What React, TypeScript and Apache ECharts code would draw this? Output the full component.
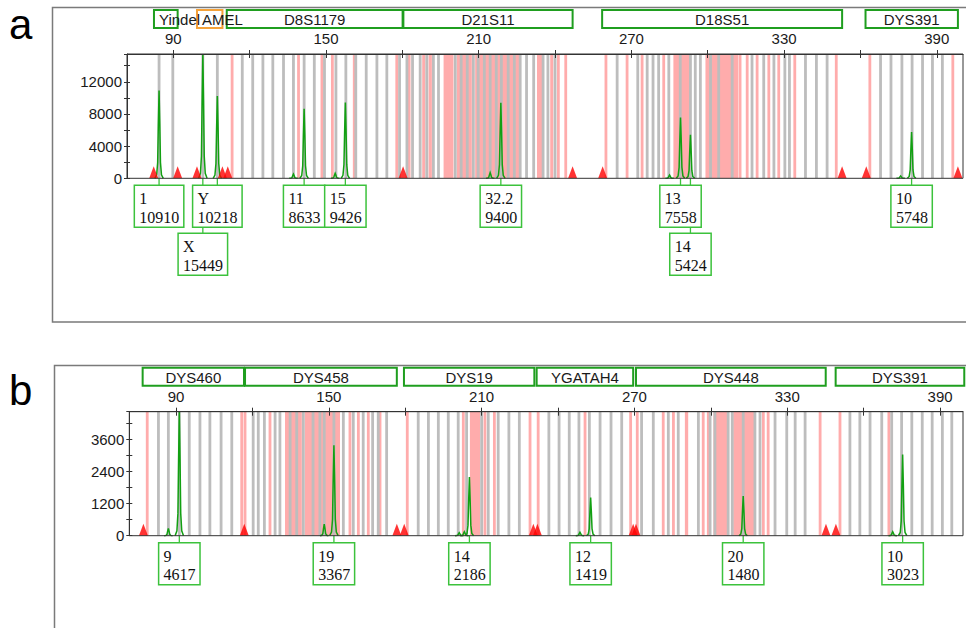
import React, { useEffect, useRef } from 'react';
import * as echarts from 'echarts';

// ---------- Panel a data ----------
const aTickValues = [90, 120, 150, 180, 210, 240, 270, 300, 330, 360, 390];
const aLabelValues = [90, 150, 210, 270, 330, 390];
const aGrayBins = [84.4, 89.8, 101.6, 107.3, 117.1, 121.2, 125.2, 129.1, 133.3, 137.2, 141.4, 145.4, 149.4, 153.9, 157.8, 161.7, 165.8, 170.0, 173.9, 178.9, 181.8, 184.0, 187.0, 189.6, 192.2, 194.2, 200.8, 203.1, 205.5, 207.9, 209.8, 212.2, 214.5, 216.9, 218.9, 221.6, 224.0, 226.3, 228.8, 231.6, 235.3, 237.2, 240.0, 264.4, 272.5, 276.2, 278.5, 280.7, 284.7, 289.2, 293.2, 295.1, 297.1, 301.1, 304.3, 309.6, 317.4, 322.0, 326.0, 330.3, 332.1, 338.4, 342.7, 346.9, 367.9, 372.0, 376.3, 380.3, 384.4, 388.3, 392.2];
const aPinkBins = [113.1, 139.2, 148.4, 152.5, 161.1, 177.8, 241.3, 244.2, 260.0, 268.3, 274.2, 282.7, 312.7, 315.5, 319.4, 324.0, 327.9, 334.2, 350.5, 363.7, 396.3];
const aPinkBlocks = [[182.0, 183.2], [187.8, 189.0], [190.3, 191.6], [196.2, 200.1], [201.4, 207.3], [208.6, 226.3], [232.9, 234.9], [238.1, 239.3], [286.5, 293.2], [299.1, 312.0]];
const aPeakPos = [84.4, 101.6, 107.3, 141.4, 157.6, 218.7, 289.3, 293.2, 380.1];
const aPeakHeight = [10910, 15449, 10218, 8633, 9426, 9400, 7558, 5424, 5748];
const aAlleleNames = ['1', 'X', 'Y', '11', '15', '32.2', '13', '14', '10'];
const aLabelRow = [0, 1, 0, 0, 0, 0, 0, 1, 0];
const aMinorPos = [137.2, 153.6, 214.5, 285.0, 375.8];
const aMinorHeight = [530, 620, 700, 400, 290];
const aTriangles = [82.3, 91.7, 99.3, 109.3, 111.4, 180.3, 246.9, 258.7, 352.8, 362.3, 398.3];
const aLocusNames = ['Yindel', 'AMEL', 'D8S1179', 'D21S11', 'D18S51', 'DYS391'];
const aLocusStart = [82.4, 99.3, 111.0, 180.4, 258.5, 362.0];
const aLocusEnd = [91.7, 109.3, 180.1, 246.9, 352.8, 398.3];
const aLocusColors = ['#1f9e1f', '#f4a23a', '#1f9e1f', '#1f9e1f', '#1f9e1f', '#1f9e1f'];

// ---------- Panel b data ----------
const bTickValues = [90, 120, 150, 180, 210, 240, 270, 300, 330, 360, 390];
const bLabelValues = [90, 150, 210, 270, 330, 390];
const bGrayBins = [83.1, 87.0, 91.3, 95.2, 99.4, 103.3, 107.7, 111.9, 120.3, 122.3, 124.7, 128.9, 130.8, 134.8, 137.4, 140.0, 143.8, 146.5, 148.2, 152.0, 155.7, 159.6, 163.5, 167.2, 169.4, 172.7, 185.1, 189.1, 193.0, 196.9, 200.8, 204.1, 210.0, 212.6, 216.5, 220.7, 224.8, 236.4, 240.4, 244.4, 248.2, 252.3, 256.5, 260.8, 265.0, 272.8, 277.4, 283.3, 287.2, 295.1, 299.7, 301.6, 306.8, 308.4, 312.7, 317.3, 319.3, 325.2, 329.8, 333.1, 337.0, 354.6, 358.5, 362.5, 367.1, 371.0, 374.9, 378.9, 383.0, 386.9, 390.9, 394.6];
const bPinkBins = [78.7, 115.8, 117.1, 126.9, 158.3, 161.6, 165.5, 170.1, 180.8, 202.8, 211.3, 215.0, 229.0, 232.2, 250.6, 268.5, 271.1, 281.3, 285.3, 297.0, 299.0, 320.6, 322.5, 342.9, 350.7, 369.9];
const bPinkBlocks = [[132.8, 139.4], [140.6, 154.4], [205.4, 209.4], [289.8, 291.1], [301.0, 306.8], [308.8, 317.3]];
const bPeakPos = [91.3, 152.0, 205.2, 252.8, 312.7, 375.3];
const bPeakHeight = [4617, 3367, 2186, 1419, 1480, 3023];
const bAlleleNames = ['9', '19', '14', '12', '20', '10'];
const bLabelRow = [0, 0, 0, 0, 0, 0];
const bMinorPos = [87.0, 148.2, 201.2, 203.2, 248.6, 371.4];
const bMinorHeight = [272, 435, 110, 150, 124, 150];
const bTriangles = [77.2, 116.8, 176.7, 179.6, 230.3, 231.9, 269.5, 270.6, 345.2, 349.1];
const bLocusNames = ['DYS460', 'DYS458', 'DYS19', 'YGATAH4', 'DYS448', 'DYS391'];
const bLocusStart = [76.9, 117.1, 179.5, 231.6, 270.6, 349.0];
const bLocusEnd = [116.7, 176.7, 230.7, 269.5, 345.1, 399.5];
const bLocusColors = ['#1f9e1f', '#1f9e1f', '#1f9e1f', '#1f9e1f', '#1f9e1f', '#1f9e1f'];

const SANS = 'Arial, "Liberation Sans", sans-serif';
const SERIF = '"Times New Roman", "Liberation Serif", serif';
const GRAY = '#bdbdbd';
const PINK = '#ffacac';
const TRACE = '#12a012';

let measureCtx: CanvasRenderingContext2D | null = null;
function textWidth(s: string, size: number, family: string) {
  if (!measureCtx) measureCtx = document.createElement('canvas').getContext('2d');
  if (!measureCtx) return s.length * size * 0.6;
  measureCtx.font = `${size}px ${family}`;
  return measureCtx.measureText(s).width;
}

function binSeries(ranges: number[][], color: string, ai: number, ymax: number) {
  return {
    type: 'custom', xAxisIndex: ai, yAxisIndex: ai, z: 1, silent: true, clip: true,
    data: ranges.map((r) => [r[0], r[1], 0]),
    encode: { x: [0, 1], y: 2 },
    renderItem: (params: any, api: any) => {
      const p0 = api.coord([api.value(0), ymax]);
      const p1 = api.coord([api.value(1), 0]);
      return {
        type: 'rect',
        shape: { x: p0[0], y: p0[1], width: Math.max(p1[0] - p0[0], 1.5), height: p1[1] - p0[1] },
        style: { fill: color },
      };
    },
  };
}

const PROFILE = [[-4.2, 0], [-2.4, 0.04], [-1.4, 0.18], [-0.75, 0.6], [0, 1], [0.75, 0.6], [1.4, 0.18], [2.4, 0.04], [4.2, 0]];

function peakSeries(pos: number[], heights: number[], ai: number) {
  return {
    type: 'custom', xAxisIndex: ai, yAxisIndex: ai, z: 3, silent: true, clip: false,
    data: pos.map((p, i) => [p, heights[i]]),
    encode: { x: 0, y: 1 },
    renderItem: (params: any, api: any) => {
      const top = api.coord([api.value(0), api.value(1)]);
      const base = api.coord([api.value(0), 0]);
      const hpx = base[1] - top[1];
      return {
        type: 'polyline',
        shape: { points: PROFILE.map((q) => [base[0] + q[0], base[1] - q[1] * hpx]) },
        style: { stroke: TRACE, lineWidth: 1.5, fill: 'none' },
      };
    },
  };
}

function triangleSeries(pos: number[], ai: number) {
  return {
    type: 'scatter', xAxisIndex: ai, yAxisIndex: ai, z: 4, silent: true,
    symbol: 'triangle', symbolSize: [9, 12], symbolOffset: [0, '-50%'],
    itemStyle: { color: '#ff0000' },
    data: pos.map((p) => [p, 0]),
  };
}

function alleleSeries(pos: number[], heights: number[], names: string[], rows: number[], ai: number) {
  return {
    type: 'custom', xAxisIndex: ai, yAxisIndex: ai, z: 4, silent: true, clip: false,
    data: pos.map((p) => [p, 0]),
    encode: { x: 0, y: 1 },
    renderItem: (params: any, api: any) => {
      const i = params.dataIndex;
      const base = api.coord([api.value(0), 0]);
      const l1 = names[i];
      const l2 = String(heights[i]);
      const w = Math.max(l1.length, l2.length) * 8.1 + 9;
      const top = base[1] + (rows[i] === 0 ? 7 : 55);
      const left = base[0] - w / 2;
      return {
        type: 'group',
        children: [
          { type: 'line', z2: 1, shape: { x1: base[0], y1: base[1], x2: base[0], y2: top }, style: { stroke: '#3cc23c', lineWidth: 1.3 } },
          { type: 'rect', z2: 2, shape: { x: left, y: top, width: w, height: 42 }, style: { fill: '#ffffff', stroke: '#3cc23c', lineWidth: 1.5 } },
          { type: 'text', z2: 3, x: left + 5, y: top + 13.5, style: { text: l1, fill: '#111', fontSize: 16, fontFamily: SERIF, align: 'left', verticalAlign: 'middle' } },
          { type: 'text', z2: 3, x: left + 5, y: top + 32, style: { text: l2, fill: '#111', fontSize: 16, fontFamily: SERIF, align: 'left', verticalAlign: 'middle' } },
        ],
      };
    },
  };
}

function locusSeries(names: string[], starts: number[], ends: number[], colors: string[], ai: number) {
  return {
    type: 'custom', xAxisIndex: ai, yAxisIndex: ai, z: 4, silent: true, clip: false,
    data: starts.map((s, i) => [s, ends[i], 0]),
    encode: { x: [0, 1], y: 2 },
    renderItem: (params: any, api: any) => {
      const i = params.dataIndex;
      const x0 = api.coord([api.value(0), 0])[0];
      const x1 = api.coord([api.value(1), 0])[0];
      const y0 = params.coordSys.y - 44;
      const w = textWidth(names[i], 15, SANS);
      const cx = Math.max((x0 + x1) / 2, x0 + 5 + w / 2);
      return {
        type: 'group',
        children: [
          { type: 'rect', z2: 1, shape: { x: x0, y: y0, width: x1 - x0, height: 18 }, style: { fill: '#ffffff', stroke: colors[i], lineWidth: 2 } },
          { type: 'text', z2: 5, x: cx, y: y0 + 9.5, style: { text: names[i], fill: '#1a1a1a', fontSize: 15, fontFamily: SANS, align: 'center', verticalAlign: 'middle' } },
        ],
      };
    },
  };
}

function axesFor(gridIndex: number, xmin: number, xmax: number, ticks: number[], labels: number[]) {
  const common = { type: 'value', gridIndex, position: 'top', min: xmin, max: xmax, z: 6, splitLine: { show: false } };
  return [
    {
      ...common,
      axisLine: { show: true, onZero: false, lineStyle: { color: '#333', width: 1 } },
      axisTick: { show: true, length: 4, customValues: ticks, lineStyle: { color: '#333' } },
      axisLabel: { show: true, customValues: labels, margin: 8, fontSize: 15, color: '#1a1a1a', fontFamily: SANS },
    },
    {
      ...common,
      axisLine: { show: false, onZero: false },
      axisTick: { show: true, inside: true, length: 4, customValues: ticks, lineStyle: { color: '#333' } },
      axisLabel: { show: false },
    },
  ];
}

function yAxesFor(gridIndex: number, ymax: number, interval: number, labelStep: number) {
  const common = { type: 'value', gridIndex, position: 'left', min: 0, max: ymax, interval, z: 6, splitLine: { show: false } };
  return [
    {
      ...common,
      axisLine: { show: true, onZero: false, lineStyle: { color: '#333', width: 1 } },
      axisTick: { show: true, length: 3, lineStyle: { color: '#333' } },
      axisLabel: { show: true, margin: 5, fontSize: 15, color: '#1a1a1a', fontFamily: SANS, formatter: (v: number) => (v % labelStep === 0 ? String(v) : '') },
    },
    {
      ...common,
      axisLine: { show: false, onZero: false },
      axisTick: { show: true, inside: true, length: 3, lineStyle: { color: '#333' } },
      axisLabel: { show: false },
    },
  ];
}

export default function App() {
  const ref = useRef<HTMLDivElement>(null);
  useEffect(() => {
    document.body.style.margin = '0';
    if (!ref.current) return;
    const chart = echarts.init(ref.current, undefined, { renderer: 'svg' });
    const aYMax = 15449;
    const bYMax = 4617;
    const singles = (arr: number[]) => arr.map((p) => [p - 0.55, p + 0.55]);
    const xa = axesFor(0, 71.8, 400.3, aTickValues, aLabelValues);
    const xb = axesFor(1, 71.66, 399.0, bTickValues, bLabelValues);
    const ya = yAxesFor(0, aYMax, 2000, 4000);
    const yb = yAxesFor(1, bYMax, 600, 1200);
    const option: any = {
      animation: false,
      backgroundColor: '#ffffff',
      grid: [
        { left: 127, top: 54, width: 836, height: 124.3, show: true, z: 5, borderColor: '#333', borderWidth: 1, backgroundColor: 'transparent' },
        { left: 129.3, top: 411.7, width: 833.7, height: 124, show: true, z: 5, borderColor: '#333', borderWidth: 1, backgroundColor: 'transparent' },
      ],
      xAxis: [...xa, ...xb],
      yAxis: [...ya, ...yb],
      graphic: [
        { type: 'rect', z: -10, shape: { x: 52.5, y: 7.5, width: 960, height: 314.5 }, style: { fill: 'none', stroke: '#7a7a7a', lineWidth: 1.5 } },
        { type: 'rect', z: -10, shape: { x: 54.5, y: 365.5, width: 960, height: 300 }, style: { fill: 'none', stroke: '#7a7a7a', lineWidth: 1.5 } },
        { type: 'text', x: 9, y: 24, style: { text: 'a', fontSize: 42, fontFamily: SANS, fill: '#000', align: 'left', verticalAlign: 'middle' } },
        { type: 'text', x: 9, y: 390, style: { text: 'b', fontSize: 42, fontFamily: SANS, fill: '#000', align: 'left', verticalAlign: 'middle' } },
      ],
      series: [
        binSeries([...aPinkBlocks, ...singles(aPinkBins)], PINK, 0, aYMax),
        binSeries(singles(aGrayBins), GRAY, 0, aYMax),
        peakSeries(aMinorPos, aMinorHeight, 0),
        peakSeries(aPeakPos, aPeakHeight, 0),
        triangleSeries(aTriangles, 0),
        alleleSeries(aPeakPos, aPeakHeight, aAlleleNames, aLabelRow, 0),
        locusSeries(aLocusNames, aLocusStart, aLocusEnd, aLocusColors, 0),
        binSeries([...bPinkBlocks, ...singles(bPinkBins)], PINK, 2, bYMax),
        binSeries(singles(bGrayBins), GRAY, 2, bYMax),
        peakSeries(bMinorPos, bMinorHeight, 2),
        peakSeries(bPeakPos, bPeakHeight, 2),
        triangleSeries(bTriangles, 2),
        alleleSeries(bPeakPos, bPeakHeight, bAlleleNames, bLabelRow, 2),
        locusSeries(bLocusNames, bLocusStart, bLocusEnd, bLocusColors, 2),
      ],
    };
    chart.setOption(option);
    return () => chart.dispose();
  }, []);
  return <div ref={ref} style={{ width: 966, height: 628 }} />;
}
